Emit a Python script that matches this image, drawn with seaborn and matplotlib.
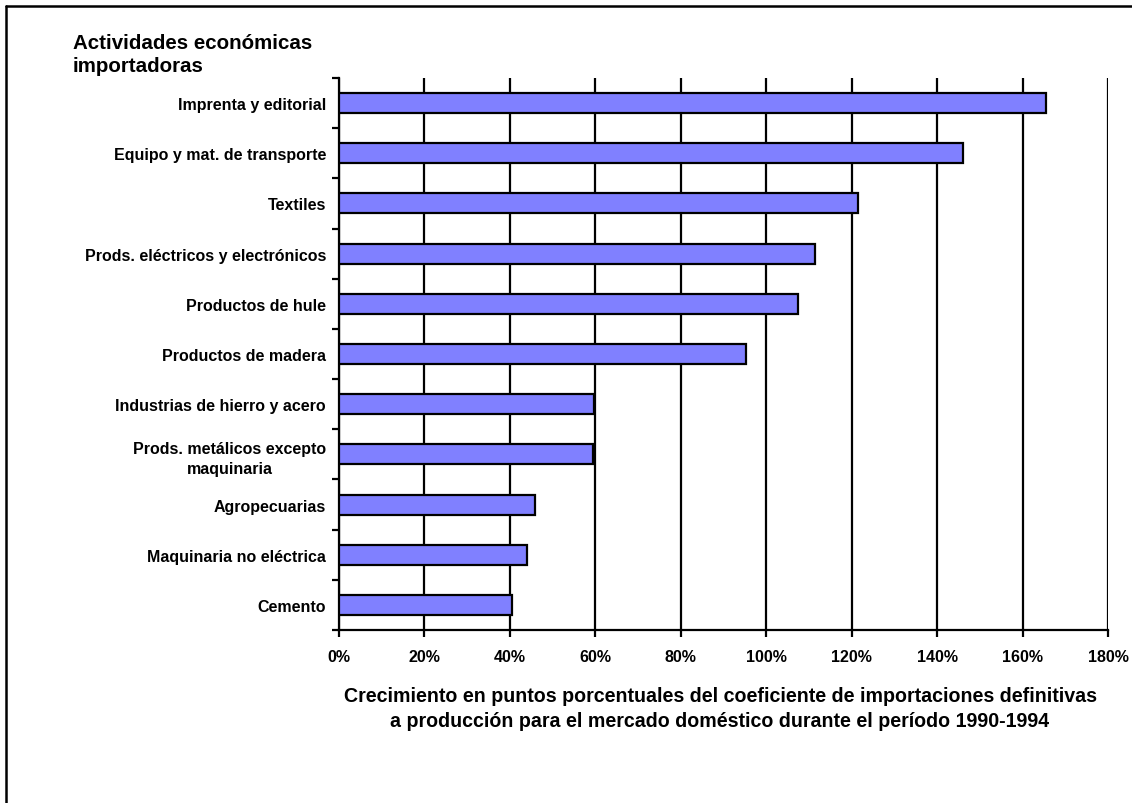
import matplotlib
matplotlib.use("Agg")
import matplotlib.pyplot as plt
import seaborn as sns
import pandas as pd
from matplotlib.lines import Line2D

# Import-coefficient growth by economic activity, 1990-1994 (percentage points)
activities = [
    "Imprenta y editorial",
    "Equipo y mat. de transporte",
    "Textiles",
    "Prods. eléctricos y electrónicos",
    "Productos de hule",
    "Productos de madera",
    "Industrias de hierro y acero",
    "Prods. metálicos excepto\nmaquinaria",
    "Agropecuarias",
    "Maquinaria no eléctrica",
    "Cemento",
]
growth = [165.4, 146.1, 121.4, 111.5, 107.4, 95.2, 59.7, 59.4, 45.8, 43.9, 40.5]
x_ticks = [0, 20, 40, 60, 80, 100, 120, 140, 160, 180]
x_tick_labels = [f"{t}%" for t in x_ticks]

df = pd.DataFrame({"actividad": activities, "crecimiento": growth})

sns.set_theme(style="white")
plt.rcParams["font.family"] = ["Liberation Sans", "DejaVu Sans"]
plt.rcParams["font.weight"] = "bold"
plt.rcParams["text.color"] = "black"
plt.rcParams["xtick.color"] = "black"
plt.rcParams["ytick.color"] = "black"

fig = plt.figure(figsize=(11.32, 8.04), dpi=100)
ax = fig.add_axes([339 / 1132, 1 - 631 / 804, (1108 - 339) / 1132, (631 - 79) / 804])

sns.barplot(
    data=df, x="crecimiento", y="actividad", order=activities,
    orient="h", width=0.4, color="#8080FF", saturation=1,
    edgecolor="black", linewidth=1.6, ax=ax, zorder=3,
)

ax.set_xlim(0, 180)
ax.set_ylim(len(activities) - 0.5, -0.5)
ax.set_xticks(x_ticks)
ax.set_xticklabels(x_tick_labels, fontsize=11.5, fontweight="bold", color="black")
ax.grid(axis="x", color="black", linewidth=1.6, zorder=0)
ax.set_axisbelow(True)

# category labels at centers, tick marks at the boundaries between categories
ax.set_yticks(range(len(activities)))
ax.set_yticklabels(activities, fontsize=11.5, fontweight="bold", color="black",
                   multialignment="center", linespacing=1.4)
ax.tick_params(axis="y", which="major", length=0, pad=9.4)
ax.set_yticks([i - 0.5 for i in range(len(activities) + 1)], minor=True)
ax.tick_params(axis="y", which="minor", length=5, width=1.6, color="black", left=True, direction="out")
ax.tick_params(axis="x", which="major", length=5, width=1.6, color="black", bottom=True,
               direction="out", pad=9)

for side in ["top", "right"]:
    ax.spines[side].set_visible(False)
for side in ["left", "bottom"]:
    ax.spines[side].set_visible(True)
    ax.spines[side].set_color("black")
    ax.spines[side].set_linewidth(1.6)

ax.set_xlabel("")
ax.set_ylabel("")

fig.text(73 / 1132, 1 - 34 / 804, "Actividades económicas\nimportadoras",
         ha="left", va="top", fontsize=14.8, fontweight="bold", linespacing=1.3, color="black")
fig.text(720 / 1132, 1 - 709 / 804,
         "Crecimiento en puntos porcentuales del coeficiente de importaciones definitivas\n"
         "a producción para el mercado doméstico durante el período 1990-1994",
         ha="center", va="center", fontsize=14.1, fontweight="bold", linespacing=1.45, color="black")

# outer frame around the chart
fig.add_artist(Line2D([6 / 1132, 1.0], [1 - 7 / 804, 1 - 7 / 804], color="black", linewidth=1.8,
                      transform=fig.transFigure))
fig.add_artist(Line2D([6 / 1132, 6 / 1132], [0.0, 1 - 7 / 804], color="black", linewidth=1.8,
                      transform=fig.transFigure))

fig.savefig("out.png", dpi=100, facecolor="white")
